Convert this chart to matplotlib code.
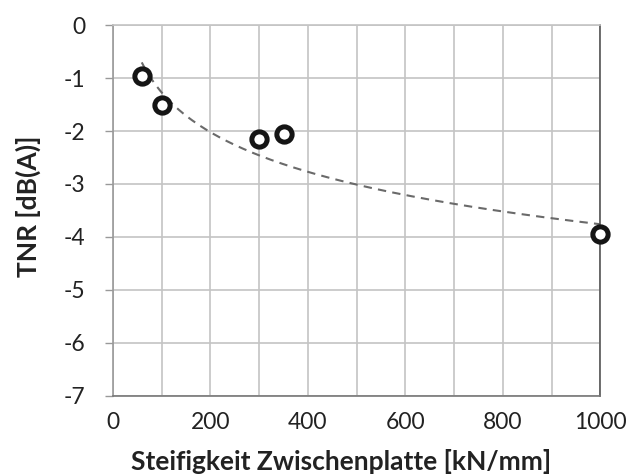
import numpy as np
import matplotlib
matplotlib.use('Agg')
import matplotlib.pyplot as plt

# Messpunkte
steifigkeit = [60, 100, 300, 350, 1000]
tnr = [-0.97, -1.50, -2.16, -2.06, -3.94]

# logarithmische Trendlinie (Koeffizienten)
trend_a = -1.08
trend_b = 3.70
trend_start = 59
trend_end = 1000

x_ticks = [0, 200, 400, 600, 800, 1000]
y_ticks = [0, -1, -2, -3, -4, -5, -6, -7]

plt.rcParams['font.family'] = ['Lato', 'DejaVu Sans']
plt.rcParams['axes.unicode_minus'] = False

fig = plt.figure(figsize=(6.42, 4.74), dpi=100)
ax = fig.add_axes([0.176, 0.165, 0.759, 0.782])

tx = np.linspace(trend_start, trend_end, 200)
ty = trend_a * np.log(tx) + trend_b
ax.plot(tx, ty, linestyle=(0, (4, 3)), color='#6a6a6a', linewidth=1.5, zorder=2)

ax.plot(steifigkeit, tnr, linestyle='none', marker='o', markersize=11,
        markerfacecolor='white', markeredgecolor='#151515', markeredgewidth=3.6,
        zorder=3, clip_on=False)

ax.set_xlim(0, 1000)
ax.set_ylim(-7, 0)
ax.set_xticks(x_ticks)
ax.set_xticks(np.arange(0, 1001, 100), minor=True)
ax.set_yticks(y_ticks)
ax.grid(True, which='both', color='#c4c4c4', linewidth=1.2)
ax.set_axisbelow(True)

ax.tick_params(axis='x', which='both', length=0, labelsize=16.5, pad=12, colors='#222222')
ax.tick_params(axis='y', length=6, width=1, color='#999999', labelsize=16.5, pad=14,
               labelcolor='#222222')

ax.spines['top'].set_color('#c4c4c4')
ax.spines['left'].set_color('#999999')
ax.spines['bottom'].set_color('#777777')
ax.spines['right'].set_color('#555555')
for s in ax.spines.values():
    s.set_linewidth(1.2)

ax.set_xlabel('Steifigkeit Zwischenplatte [kN/mm]', fontsize=19, fontweight='bold',
              color='#222222')
ax.xaxis.set_label_coords(0.468, -0.143)
ax.set_ylabel('TNR [dB(A)]', fontsize=19, fontweight='bold', color='#222222')
ax.yaxis.set_label_coords(-0.148, 0.51)

fig.savefig('out.png', dpi=100)
